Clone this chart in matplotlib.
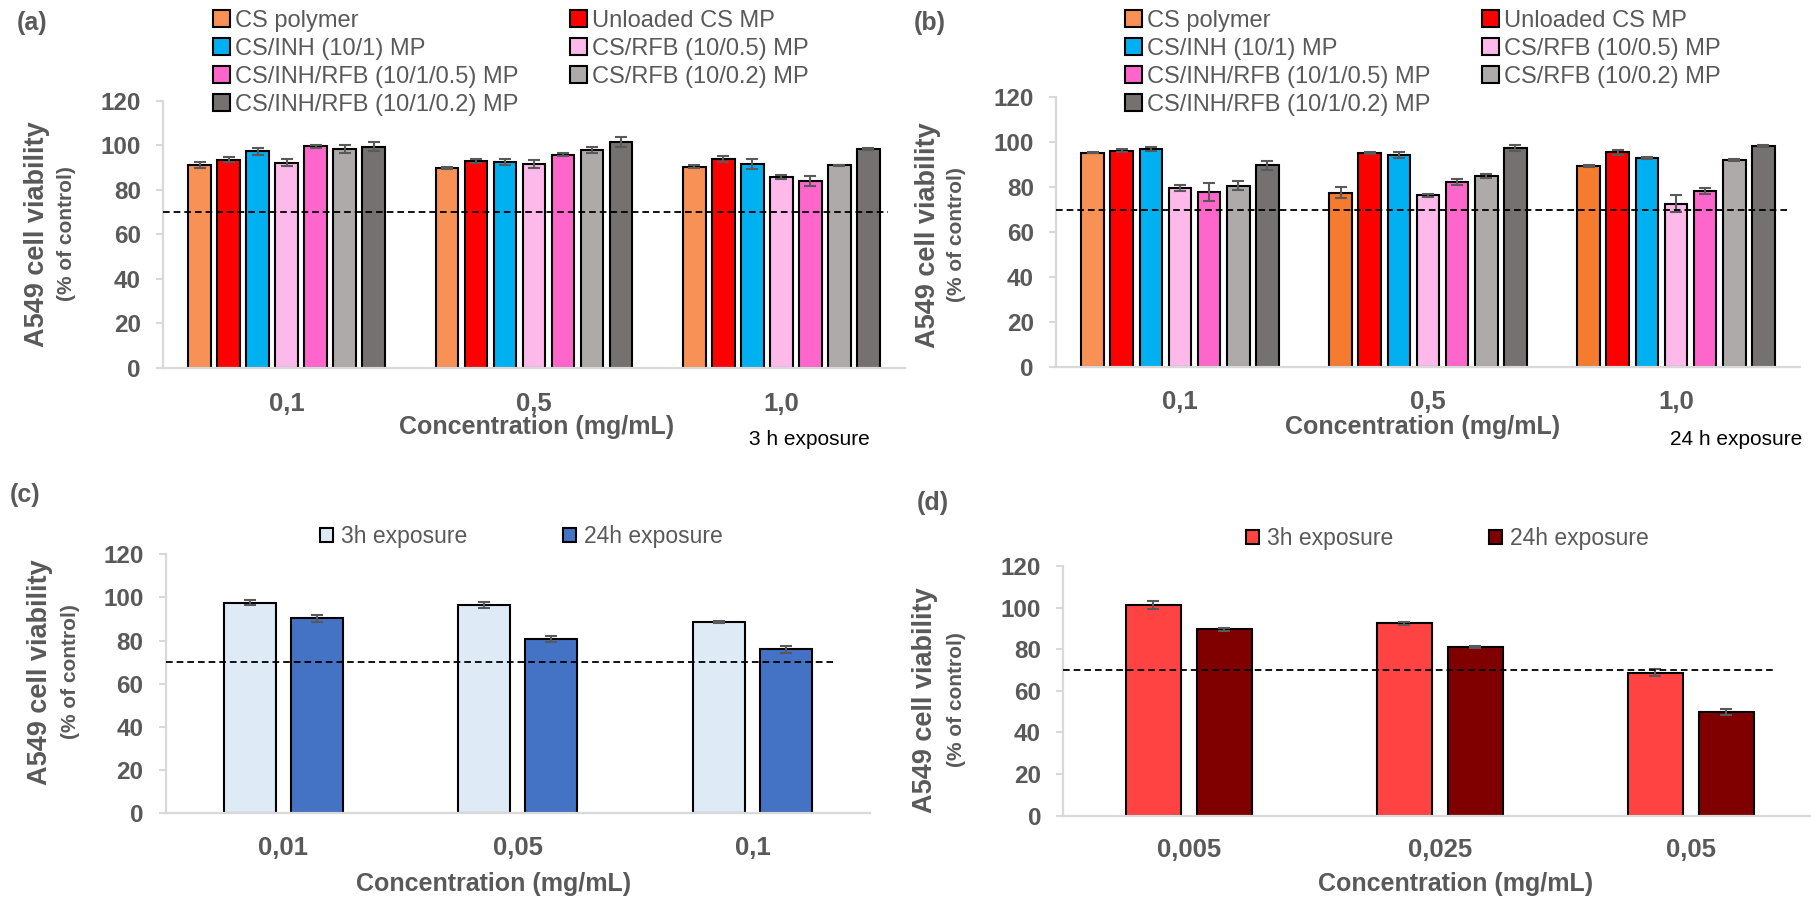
import numpy as np
import matplotlib.pyplot as plt
from matplotlib.patches import Patch

plt.rcParams['font.family'] = ['Liberation Sans', 'DejaVu Sans']

# --- DATOS ---
# Paneles (a) y (b): 7 formulaciones x 3 concentraciones
conc_ab = ['0,1', '0,5', '1,0']
series_ab = ['CS polymer', 'Unloaded CS MP', 'CS/INH (10/1) MP', 'CS/RFB (10/0.5) MP',
             'CS/INH/RFB (10/1/0.5) MP', 'CS/RFB (10/0.2) MP', 'CS/INH/RFB (10/1/0.2) MP']

# (a) 3 h de exposicion
via_a = [[91.2, 89.7, 90.3],
         [93.6, 93.0, 93.9],
         [97.2, 92.5, 91.5],
         [92.2, 91.6, 85.8],
         [99.6, 95.8, 84.1],
         [98.4, 97.8, 91.0],
         [99.4, 101.6, 98.4]]
err_a = [[1.2, 0.5, 0.7],
         [1.2, 1.0, 1.2],
         [1.6, 1.3, 2.3],
         [1.6, 1.8, 0.8],
         [0.7, 0.8, 2.3],
         [1.9, 1.2, 0.2],
         [2.2, 2.2, 0.5]]

# (b) 24 h de exposicion
via_b = [[95.4, 77.5, 89.4],
         [96.3, 95.2, 95.5],
         [97.0, 94.3, 92.8],
         [79.6, 76.3, 72.6],
         [77.7, 82.4, 78.2],
         [80.7, 85.0, 92.1],
         [89.7, 97.3, 98.4]]
err_b = [[0.4, 2.5, 0.3],
         [0.5, 0.6, 1.0],
         [1.0, 1.2, 0.4],
         [1.5, 0.8, 3.9],
         [4.0, 1.3, 1.3],
         [1.8, 0.8, 0.6],
         [2.0, 1.3, 0.5]]

# (c)
conc_c = ['0,01', '0,05', '0,1']
c_3h = [97.5, 96.4, 88.8]
c_3h_err = [1.1, 1.5, 0.4]
c_24h = [90.3, 80.6, 76.0]
c_24h_err = [1.5, 1.4, 1.7]

# (d)
conc_d = ['0,005', '0,025', '0,05']
d_3h = [101.3, 92.4, 68.7]
d_3h_err = [1.8, 0.6, 1.8]
d_24h = [89.5, 81.0, 49.7]
d_24h_err = [0.5, 0.6, 1.5]

umbral = 70

# --- ESTILO ---
GRIS = '#595959'
EJE = '#D9D9D9'
colores_ab = ['#F79155', '#FF0000', '#00B0F0', '#FCB9E9', '#FF66CC', '#AEAAAA', '#767171']
naranja_b = ['#F79155', '#F47B30', '#F47B30']

W, H = 1811, 899
fig = plt.figure(figsize=(W / 100, H / 100), dpi=100)


def fx(px):
    return px / W


def fy(py):
    return 1 - py / H


def caja(izq, der, arriba, abajo):
    return [fx(izq), fy(abajo), (der - izq) / W, (abajo - arriba) / H]


err_kw = dict(ecolor=GRIS, elinewidth=1.5, capsize=4.5, capthick=1.5)


def estilo(ax, etiquetas, fin_linea, pad_x):
    ax.set_ylim(0, 120)
    ax.set_yticks(range(0, 121, 20))
    ax.set_xticks(range(len(etiquetas)))
    ax.set_xticklabels(etiquetas)
    for s in ['top', 'right']:
        ax.spines[s].set_visible(False)
    for s in ['left', 'bottom']:
        ax.spines[s].set_color(EJE)
        ax.spines[s].set_linewidth(1.6)
    ax.tick_params(axis='y', colors=EJE, length=5, width=1.5, pad=11,
                   labelsize=17.5, labelcolor=GRIS)
    ax.tick_params(axis='x', length=0, pad=pad_x, labelsize=18.5, labelcolor=GRIS)
    for t in ax.get_xticklabels() + ax.get_yticklabels():
        t.set_fontweight('bold')
    ax.axhline(umbral, xmin=0, xmax=fin_linea, color='black', lw=1.3,
               ls=(0, (3.7, 2.2)), zorder=4)


def etiqueta_y(xp1, xp2, yp):
    fig.text(fx(xp1), fy(yp), 'A549 cell viability', rotation=90, ha='center', va='center',
             fontsize=19.5, fontweight='bold', color=GRIS)
    fig.text(fx(xp2), fy(yp), '(% of control)', rotation=90, ha='center', va='center',
             fontsize=15, fontweight='bold', color=GRIS)


def etiqueta_x(ax, x, y):
    ax.set_xlabel('Concentration (mg/mL)', fontsize=18, fontweight='bold', color=GRIS, va='center')
    ax.xaxis.set_label_coords(x, y)


# --- PANELES (a) y (b) ---
ancho = 0.092
paso = 0.1173
x = np.arange(len(conc_ab))

ax_a = fig.add_axes(caja(163, 905, 100.7, 368))
ax_b = fig.add_axes(caja(1056, 1800, 97.3, 366.7))

for i in range(len(series_ab)):
    pos = x + (i - 3) * paso
    ax_a.bar(pos, via_a[i], ancho, color=colores_ab[i], edgecolor='black', lw=1.5,
             yerr=err_a[i], error_kw=err_kw, zorder=2)
    col_b = naranja_b if i == 0 else colores_ab[i]
    ax_b.bar(pos, via_b[i], ancho, color=col_b, edgecolor='black', lw=1.5,
             yerr=err_b[i], error_kw=err_kw, zorder=2)

for ax in [ax_a, ax_b]:
    ax.set_xlim(-0.5, 2.5)
estilo(ax_a, conc_ab, 0.977, 17)
estilo(ax_b, conc_ab, 0.983, 17)
etiqueta_x(ax_a, 0.504, -0.221)
etiqueta_x(ax_b, 0.493, -0.224)
etiqueta_y(37, 66, 234)
etiqueta_y(928, 957, 235)

# leyendas: dos columnas, la primera con 4 filas
handles = [Patch(facecolor=colores_ab[i], edgecolor='black', lw=1.5, label=series_ab[i])
           for i in range(len(series_ab))]
orden = [0, 2, 4, 6, 1, 3, 5]
for xl in [213, 1125]:
    fig.legend(handles=[handles[k] for k in orden], loc='upper left',
               bbox_to_anchor=(fx(xl), fy(10)), ncol=2, frameon=False, fontsize=17,
               handlelength=0.72, handleheight=0.72, handletextpad=0.2,
               columnspacing=2.2, labelspacing=0.25, borderpad=0, borderaxespad=0,
               labelcolor=GRIS)

fig.text(fx(809), fy(440), '3 h exposure', ha='center', va='center', fontsize=15, color='black')
fig.text(fx(1802), fy(440), '24 h exposure', ha='right', va='center', fontsize=15, color='black')

# --- PANEL (c) ---
ax_c = fig.add_axes(caja(165.7, 870, 554.3, 813.3))
xc = np.arange(len(conc_c))
ax_c.bar(xc - 0.1427, c_3h, 0.222, color='#DEEBF7', edgecolor='black', lw=1.5,
         yerr=c_3h_err, error_kw=err_kw, zorder=2, label='3h exposure')
ax_c.bar(xc + 0.1427, c_24h, 0.222, color='#4472C4', edgecolor='black', lw=1.5,
         yerr=c_24h_err, error_kw=err_kw, zorder=2, label='24h exposure')
ax_c.set_xlim(-0.5, 2.5)
estilo(ax_c, conc_c, 0.947, 16)
etiqueta_x(ax_c, 0.465, -0.273)
etiqueta_y(40, 70, 672)

# --- PANEL (d) ---
ax_d = fig.add_axes(caja(1063.3, 1811, 566, 815.7))
xd = np.arange(len(conc_d))
ax_d.bar(xd - 0.141, d_3h, 0.218, color='#FF4343', edgecolor='black', lw=1.5,
         yerr=d_3h_err, error_kw=err_kw, zorder=2, label='3h exposure')
ax_d.bar(xd + 0.141, d_24h, 0.218, color='#800000', edgecolor='black', lw=1.5,
         yerr=d_24h_err, error_kw=err_kw, zorder=2, label='24h exposure')
ax_d.set_xlim(-0.5, 2.479)
estilo(ax_d, conc_d, 0.952, 16)
etiqueta_x(ax_d, 0.524, -0.2735)
etiqueta_y(925, 957, 700)

for ax, xl, yl in [(ax_c, 320, 537), (ax_d, 1246, 539)]:
    ax.legend(loc='center left', bbox_to_anchor=(fx(xl), fy(yl)), bbox_transform=fig.transFigure,
              ncol=2, frameon=False, fontsize=16.5, handlelength=0.55, handleheight=0.55,
              handletextpad=0.35, columnspacing=4.2, borderpad=0, borderaxespad=0,
              labelcolor=GRIS)

# letras de panel
for letra, xp, yp in [('(a)', 32, 23), ('(b)', 930, 23), ('(c)', 25, 495), ('(d)', 933, 503)]:
    fig.text(fx(xp), fy(yp), letra, ha='center', va='center', fontsize=18,
             fontweight='bold', color=GRIS)

fig.savefig('out.png', dpi=100)
